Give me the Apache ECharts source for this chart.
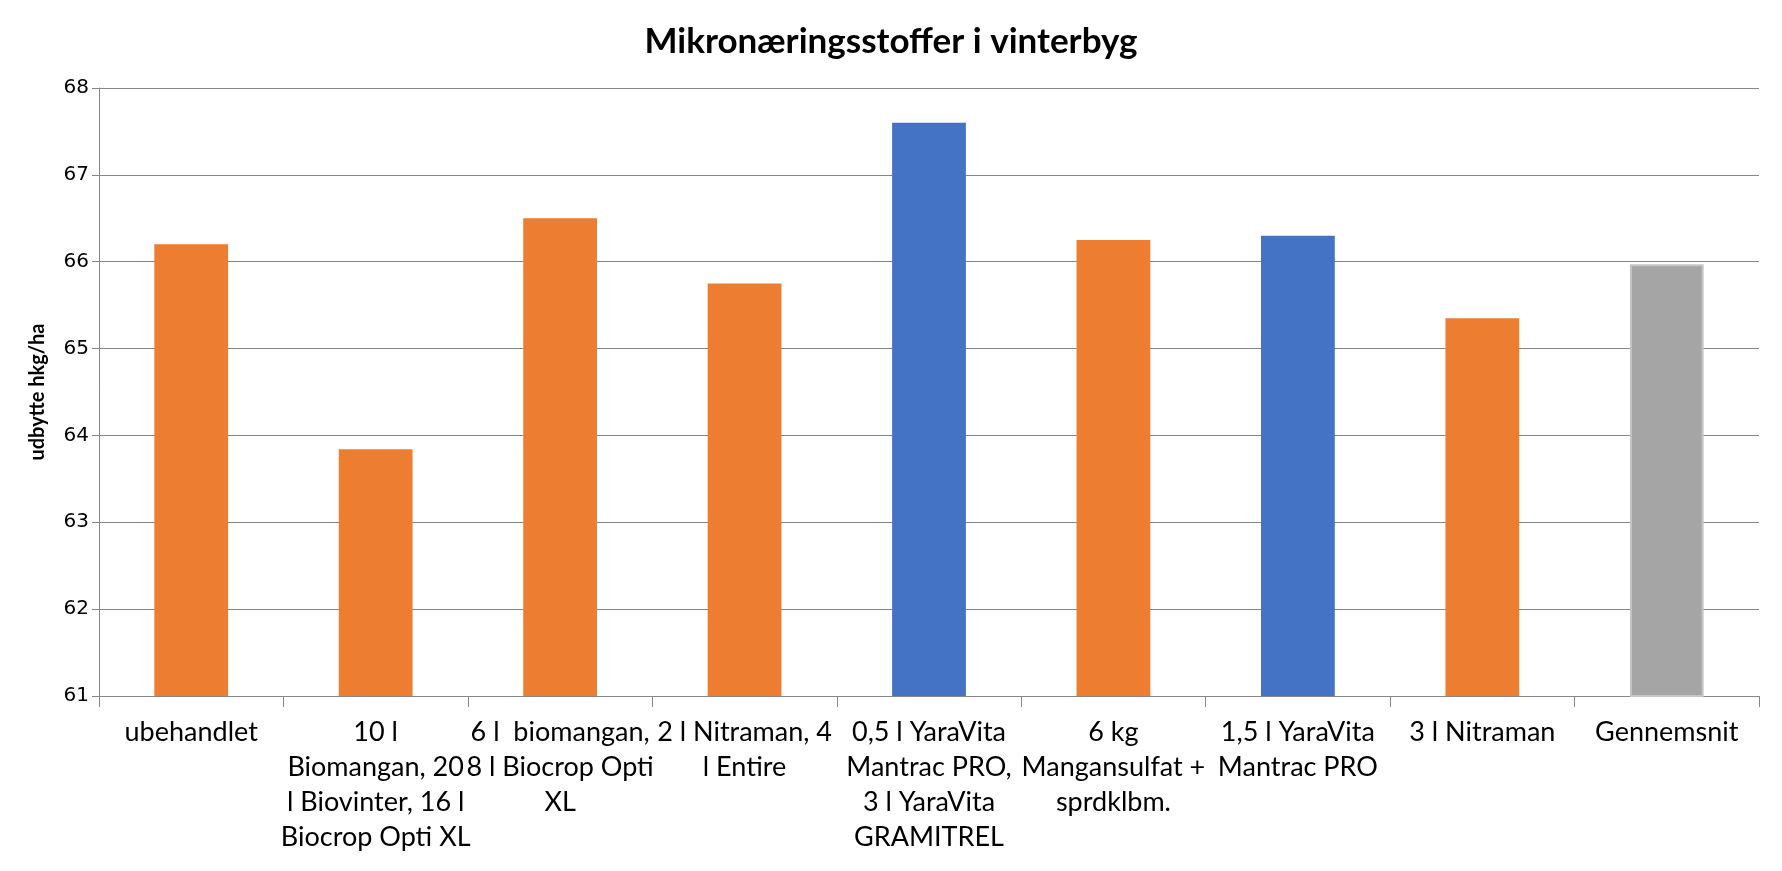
<!DOCTYPE html>
<html>
<head>
<meta charset="utf-8">
<script src="https://cdn.jsdelivr.net/npm/echarts@6/dist/echarts.min.js"></script>
<style>
html,body{margin:0;padding:0;background:#fff;}
#c{width:1782px;height:871px;}
</style>
</head>
<body>
<div id="c"></div>
<script>
const titleText = "Mikronæringsstoffer i vinterbyg";
const yAxisName = "udbytte hkg/ha";
const categories = [
  "ubehandlet",
  "10 l\nBiomangan, 20\nl Biovinter, 16 l\nBiocrop Opti XL",
  "6 l  biomangan,\n8 l Biocrop Opti\nXL",
  "2 l Nitraman, 4\nl Entire",
  "0,5 l YaraVita\nMantrac PRO,\n3 l YaraVita\nGRAMITREL",
  "6 kg\nMangansulfat +\nsprdklbm.",
  "1,5 l YaraVita\nMantrac PRO",
  "3 l Nitraman",
  "Gennemsnit"
];
const values = [66.2, 63.84, 66.5, 65.75, 67.6, 66.25, 66.3, 65.35, 65.97];
const groups = ["other", "other", "other", "other", "yara", "other", "yara", "other", "mean"];
const yTicks = [61, 62, 63, 64, 65, 66, 67, 68];

const groupColor = { other: "#ED7D31", yara: "#4472C4", mean: "#A5A5A5" };

const chart = echarts.init(document.getElementById('c'), null, { renderer: 'canvas' });
chart.setOption({
  animation: false,
  backgroundColor: '#ffffff',
  title: {
    text: titleText,
    left: 'center',
    top: 19,
    textStyle: { fontFamily: 'Lato', fontWeight: 'bold', fontSize: 35, color: '#000' }
  },
  grid: { left: 99, right: 23, top: 88, bottom: 175, containLabel: false },
  xAxis: {
    type: 'category',
    data: categories,
    axisLine: { lineStyle: { color: '#868686', width: 1 } },
    axisTick: { show: true, length: 11, interval: 0, lineStyle: { color: '#868686' } },
    axisLabel: {
      interval: 0,
      margin: 19,
      fontFamily: 'Lato',
      fontSize: 27,
      lineHeight: 35,
      color: '#000',
      align: 'center'
    }
  },
  yAxis: {
    type: 'value',
    min: yTicks[0],
    max: yTicks[yTicks.length - 1],
    interval: 1,
    name: yAxisName,
    nameLocation: 'middle',
    nameGap: 51,
    nameTextStyle: { fontFamily: 'Lato', fontWeight: 'bold', fontSize: 20, color: '#000' },
    axisLine: { show: true, lineStyle: { color: '#868686', width: 1 } },
    axisTick: { show: true, length: 7, lineStyle: { color: '#868686' } },
    axisLabel: { fontFamily: 'DejaVu Sans', fontSize: 20, color: '#000', margin: 10 },
    splitLine: { show: true, lineStyle: { color: '#868686', width: 1 } }
  },
  series: [{
    type: 'bar',
    barWidth: '40%',
    data: values.map((v, i) => ({
      value: v,
      itemStyle: groups[i] === 'mean'
        ? { color: groupColor.mean, borderColor: '#c6c6c6', borderWidth: 2 }
        : { color: groupColor[groups[i]] }
    }))
  }]
});
</script>
</body>
</html>
